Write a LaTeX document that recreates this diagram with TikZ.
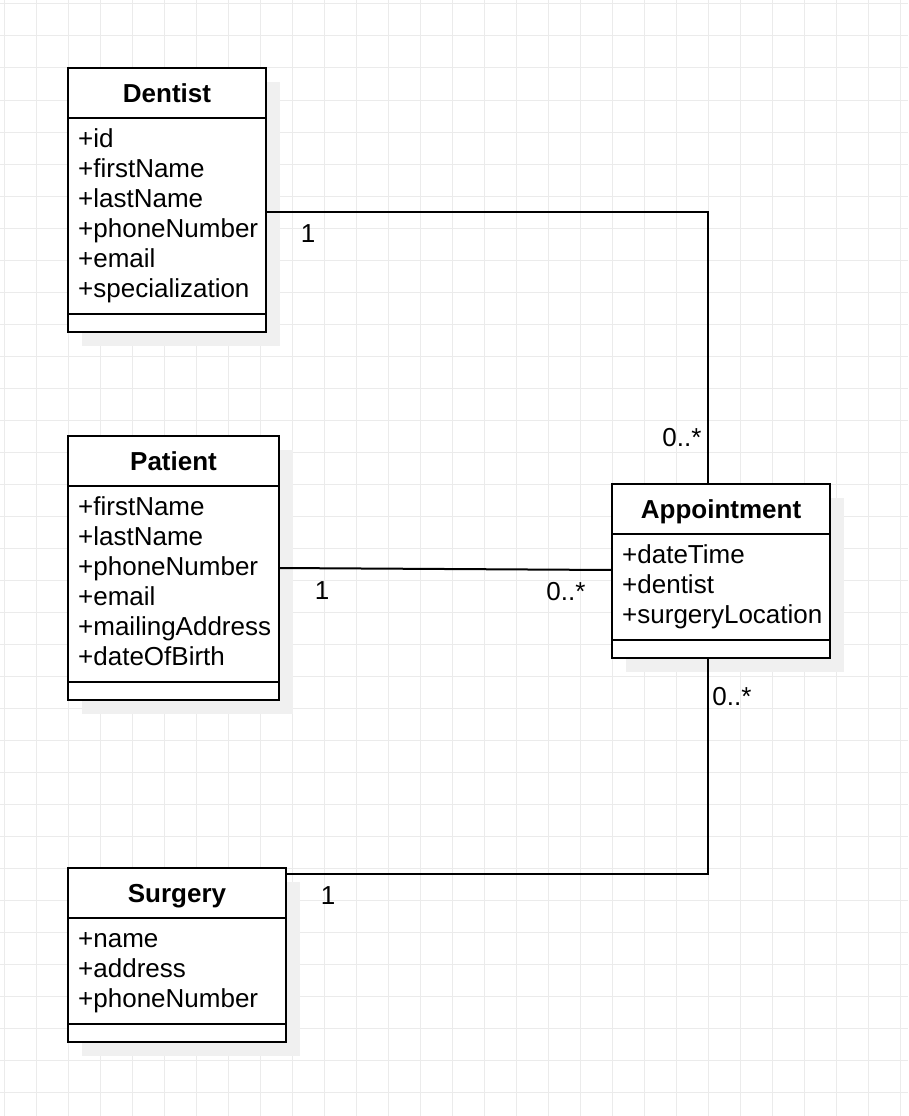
\documentclass[tikz,border=0pt]{standalone}
\usepackage{fontspec}
\setmainfont{Liberation Sans}
\usepackage{tikz}
\usetikzlibrary{positioning, shadows}
\usepackage{xcolor}
\definecolor{gridgray}{HTML}{EBEBEB}
\definecolor{shadowgray}{HTML}{F0F0F0}
\newcommand{\attrfont}{\fontsize{26}{30}\selectfont}
\newcommand{\titlefont}{\fontsize{26}{30}\selectfont\bfseries}

\begin{document}
\begin{tikzpicture}[
  x=1pt, y=-1pt,
  gridline/.style={draw=gridgray, line width=1pt},
  classbox/.style={draw, line width=2pt, fill=white, outer sep=0pt, inner sep=0pt,
                   drop shadow={shadow xshift=14pt, shadow yshift=-14pt,
                                fill=shadowgray, opacity=1}},
  head/.style={classbox, minimum height=50pt, font=\titlefont,
               text height=19pt, text depth=0pt},
  attrbox/.style={classbox},
  foot/.style={classbox, minimum height=18pt},
  attrs/.style={anchor=north west, inner xsep=10pt, inner ysep=8pt,
                align=left, font=\attrfont},
  mult/.style={font=\attrfont, inner sep=0pt},
  assoc/.style={line width=2pt},
]
  \useasboundingbox (0,0) rectangle (908,1116);
  \fill[white] (0,0) rectangle (908,1116);
  % Grid
  \foreach \gx in {4,36,...,900} \draw[gridline] (\gx,0) -- (\gx,1116);
  \foreach \gy in {4,36,...,1092} \draw[gridline] (0,\gy) -- (908,\gy);
  % Dentist
  \node[head, minimum width=198pt] (dentist_hd) at (167,93) {Dentist};
  \node[attrbox, minimum width=198pt, minimum height=196pt, below=0pt of dentist_hd] (dentist_at) {};
  \node[foot, minimum width=198pt, below=0pt of dentist_at] (dentist_ft) {};
  \node[attrs] (dentist_tx) at (dentist_at.north west)
    {\strut+id\\+firstName\\+lastName\\+phoneNumber\\+email\\+specialization};
  % Patient
  \node[head, minimum width=211pt] (patient_hd) at (173.5,461) {Patient};
  \node[attrbox, minimum width=211pt, minimum height=196pt, below=0pt of patient_hd] (patient_at) {};
  \node[foot, minimum width=211pt, below=0pt of patient_at] (patient_ft) {};
  \node[attrs] (patient_tx) at (patient_at.north west)
    {\strut+firstName\\+lastName\\+phoneNumber\\+email\\+mailingAddress\\+dateOfBirth};
  % Appointment
  \node[head, minimum width=218pt] (appt_hd) at (721,509) {Appointment};
  \node[attrbox, minimum width=218pt, minimum height=106pt, below=0pt of appt_hd] (appt_at) {};
  \node[foot, minimum width=218pt, below=0pt of appt_at] (appt_ft) {};
  \node[attrs] (appt_tx) at (appt_at.north west)
    {\strut+dateTime\\+dentist\\+surgeryLocation};
  % Surgery
  \node[head, minimum width=218pt] (surgery_hd) at (177,893) {Surgery};
  \node[attrbox, minimum width=218pt, minimum height=106pt, below=0pt of surgery_hd] (surgery_at) {};
  \node[foot, minimum width=218pt, below=0pt of surgery_at] (surgery_ft) {};
  \node[attrs] (surgery_tx) at (surgery_at.north west)
    {\strut+name\\+address\\+phoneNumber};
  % Associations
  \draw[assoc] ([yshift=4pt]dentist_at.east) -| ([xshift=-13pt]appt_hd.north);
  \draw[assoc] ([yshift=16pt]patient_at.east) -- ([yshift=17pt]appt_at.west);
  \draw[assoc] ([yshift=19pt]surgery_hd.east) -| ([xshift=-13pt]appt_ft.south);
  % Multiplicities
  \node[mult] (m_dent) at (308,234) {1};
  \node[mult] (m_apd) at (682,438) {0..*};
  \node[mult] (m_pat) at (322,591) {1};
  \node[mult] (m_app) at (566,592) {0..*};
  \node[mult] (m_aps) at (732,697) {0..*};
  \node[mult] (m_surg) at (328,896) {1};
\end{tikzpicture}
\end{document}
